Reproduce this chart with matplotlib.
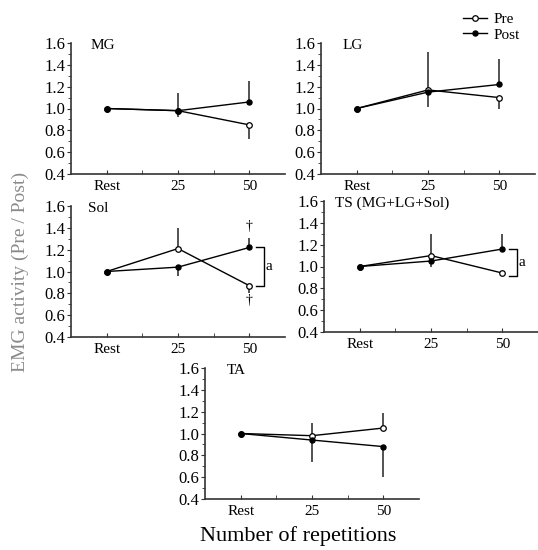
import matplotlib
matplotlib.use('Agg')
import matplotlib.pyplot as plt

plt.rcParams['font.family'] = ['Liberation Serif', 'DejaVu Serif']

# x categories
reps = [0, 1, 2]
rep_labels = ['Rest', '25', '50']

# MG
mg_pre = [1.0, 0.98, 0.85]
mg_post = [1.0, 0.98, 1.06]
mg_pre_up = [0, 0, 0]
mg_pre_dn = [0, 0.06, 0.13]
mg_post_up = [0, 0.16, 0.19]
mg_post_dn = [0, 0, 0]

# LG
lg_pre = [1.0, 1.17, 1.10]
lg_post = [1.0, 1.15, 1.22]
lg_pre_up = [0, 0.35, 0]
lg_pre_dn = [0, 0, 0.10]
lg_post_up = [0, 0, 0.23]
lg_post_dn = [0, 0.14, 0]

# Sol
sol_pre = [1.0, 1.21, 0.87]
sol_post = [1.0, 1.04, 1.22]
sol_pre_up = [0, 0.19, 0]
sol_pre_dn = [0, 0, 0.07]
sol_post_up = [0, 0, 0.09]
sol_post_dn = [0, 0.08, 0]

# TS (MG+LG+Sol)
ts_pre = [1.0, 1.10, 0.94]
ts_post = [1.0, 1.05, 1.16]
ts_pre_up = [0, 0.20, 0]
ts_pre_dn = [0, 0, 0.03]
ts_post_up = [0, 0, 0.14]
ts_post_dn = [0, 0.05, 0]

# TA
ta_pre = [1.0, 0.98, 1.05]
ta_post = [1.0, 0.94, 0.88]
ta_pre_up = [0, 0.12, 0.14]
ta_pre_dn = [0, 0, 0]
ta_post_up = [0, 0, 0]
ta_post_dn = [0, 0.20, 0.28]

fig = plt.figure(figsize=(5.38, 5.5), dpi=100)
W, H = 538, 550
aw, ah = 214, 131


def make_ax(x0, ytop):
    return fig.add_axes([x0 / W, 1 - (ytop + ah) / H, aw / W, ah / H])


def panel(ax, name, tx, pre, post, pre_up, pre_dn, post_up, post_dn):
    ax.errorbar(reps, pre, yerr=[pre_dn, pre_up], fmt='none', ecolor='#444444', elinewidth=1.3, capsize=0, zorder=1)
    ax.errorbar(reps, post, yerr=[post_dn, post_up], fmt='none', ecolor='#444444', elinewidth=1.3, capsize=0, zorder=1)
    ax.plot(reps, pre, '-o', color='black', lw=1.0, ms=4.0, mfc='white', mec='black', mew=0.9, zorder=3, label='Pre')
    ax.plot(reps, post, '-o', color='black', lw=1.0, ms=3.6, mfc='black', mec='black', zorder=4, label='Post')
    ax.set_xlim(-0.5, 2.5)
    ax.set_ylim(0.4, 1.6)
    ax.set_yticks([0.4, 0.6, 0.8, 1.0, 1.2, 1.4, 1.6])
    ax.set_yticklabels(['0.4', '0.6', '0.8', '1.0', '1.2', '1.4', '1.6'])
    ax.set_yticks([0.5, 0.7, 0.9, 1.1, 1.3, 1.5], minor=True)
    ax.set_xticks(reps)
    ax.set_xticklabels(rep_labels)
    ax.set_xticks([0.5, 1.5], minor=True)
    for s in ['top', 'right']:
        ax.spines[s].set_visible(False)
    for s in ['left', 'bottom']:
        ax.spines[s].set_color('#333333')
        ax.spines[s].set_linewidth(1.2)
    ax.tick_params(axis='y', which='major', direction='out', length=3, labelsize=12, pad=1, color='#333333')
    ax.tick_params(axis='y', which='minor', direction='out', length=2, color='#333333')
    ax.tick_params(axis='x', which='both', direction='in', length=3, labelsize=11, pad=4, color='#333333')
    ax.text(tx, 0.98, name, transform=ax.transAxes, fontsize=11, va='center', ha='left')


def bracket(ax, y1, y2):
    ax.plot([2.1, 2.2, 2.2, 2.1], [y1, y1, y2, y2], color='black', lw=1.0, clip_on=False)
    ax.text(2.23, (y1 + y2) / 2, 'a', fontsize=11, va='center', ha='left')


ax1 = make_ax(71, 43)
panel(ax1, 'MG', 0.09, mg_pre, mg_post, mg_pre_up, mg_pre_dn, mg_post_up, mg_post_dn)

ax2 = make_ax(321, 43)
panel(ax2, 'LG', 0.10, lg_pre, lg_post, lg_pre_up, lg_pre_dn, lg_post_up, lg_post_dn)

ax3 = make_ax(71, 206)
panel(ax3, 'Sol', 0.08, sol_pre, sol_post, sol_pre_up, sol_pre_dn, sol_post_up, sol_post_dn)
bracket(ax3, sol_post[2], sol_pre[2])
ax3.text(2, 1.41, '\u2020', fontsize=10, ha='center', va='center')
ax3.text(2, 0.73, '\u2020', fontsize=10, ha='center', va='center')

ax4 = make_ax(324, 201)
panel(ax4, 'TS (MG+LG+Sol)', 0.05, ts_pre, ts_post, ts_pre_up, ts_pre_dn, ts_post_up, ts_post_dn)
bracket(ax4, ts_post[2], ts_pre[2] - 0.025)

ax5 = make_ax(205, 368)
panel(ax5, 'TA', 0.10, ta_pre, ta_post, ta_pre_up, ta_pre_dn, ta_post_up, ta_post_dn)

h, l = ax1.get_legend_handles_labels()
fig.legend(h, l, loc='upper left', bbox_to_anchor=(452 / W, 1 - 2 / H), frameon=False,
           fontsize=11, handlelength=1.6, handletextpad=0.4, labelspacing=0.1, borderpad=0.2)

fig.text(298 / W, 1 - 536 / H, 'Number of repetitions', fontsize=16, ha='center', va='center')
fig.text(20 / W, 1 - 272 / H, 'EMG activity (Pre / Post)', fontsize=14, rotation=90,
         ha='center', va='center', color='#8a8a8a')

fig.savefig('out.png', dpi=100)
